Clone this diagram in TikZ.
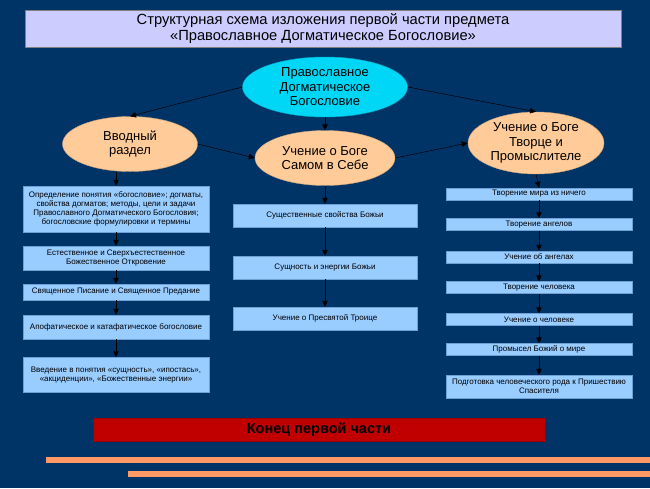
\documentclass[tikz,border=0pt]{standalone}
\usepackage{fontspec}
\setmainfont{Liberation Sans}
\usetikzlibrary{shapes.geometric,arrows.meta}
\definecolor{bg}{RGB}{0,51,102}
\definecolor{titlefill}{RGB}{204,204,255}
\definecolor{cyanfill}{RGB}{0,214,245}
\definecolor{peach}{RGB}{255,204,153}
\definecolor{boxfill}{RGB}{153,204,255}
\definecolor{boxline}{RGB}{110,160,215}
\definecolor{redfill}{RGB}{192,0,0}
\definecolor{bar}{RGB}{255,153,102}
\begin{document}
\begin{tikzpicture}[x=1pt,y=-1pt,
  box/.style={draw=boxline, fill=boxfill, line width=0.5pt, inner sep=1pt, align=center,
              font=\fontsize{8}{9}\selectfont, minimum width=186pt},
  ell/.style={ellipse, draw=#1!80!black, fill=#1, line width=0.4pt, inner sep=0pt, align=center,
              font=\fontsize{13}{14.5}\selectfont},
  arr/.style={draw=black, line width=0.5pt, -{Triangle[length=6pt,width=5.5pt]}}]
\fill[bg] (0,0) rectangle (650,488);
\useasboundingbox (0,0) rectangle (650,488);
% title
\node[draw=gray, fill=titlefill, line width=0.5pt, minimum width=596pt, minimum height=34pt,
      align=center, font=\fontsize{14.7}{16}\selectfont] (title) at (323,29)
  {Структурная схема изложения первой части предмета\\«Православное Догматическое Богословие»};
% ellipses
\node[ell=cyanfill, minimum width=165pt, minimum height=60pt] (pdb) at (325,87)
  {Православное\\Догматическое\\Богословие};
\node[ell=peach, minimum width=135pt, minimum height=55pt] (vv) at (130,144)
  {Вводный\\раздел};
\node[ell=peach, minimum width=140pt, minimum height=55pt] (sam) at (325,158)
  {Учение о Боге\\Самом в Себе};
\node[ell=peach, minimum width=136pt, minimum height=62pt] (tv) at (536,143)
  {Учение о Боге\\Творце и\\Промыслителе};
% left column
\node[box, minimum height=46pt] (L1) at (116,209)
  {Определение понятия «богословие»; догматы,\\свойства догматов; методы, цели и задачи\\Православного Догматического Богословия;\\богословские формулировки и термины};
\node[box, minimum height=24pt] (L2) at (116,258)
  {Естественное и Сверхъестественное\\Божественное Откровение};
\node[box, minimum height=16pt] (L3) at (116,292)
  {Священное Писание и Священное Предание};
\node[box, minimum height=24pt] (L4) at (116,327)
  {Апофатическое и катафатическое богословие};
\node[box, minimum height=35pt] (L5) at (116,375)
  {Введение в понятия «сущность», «ипостась»,\\«акциденции», «Божественные энергии»};
% middle column
\node[box, minimum width=184pt, minimum height=23pt] (M1) at (325,215.5) {Существенные свойства Божьи};
\node[box, minimum width=184pt, minimum height=23pt] (M2) at (325,267.5) {Сущность и энергии Божьи};
\node[box, minimum width=184pt, minimum height=23pt] (M3) at (325,318.5) {Учение о Пресвятой Троице};
% right column
\node[box, minimum height=12pt] (R1) at (539,194) {Творение мира из ничего};
\node[box, minimum height=12pt] (R2) at (539,224.5) {Творение ангелов};
\node[box, minimum height=12pt] (R3) at (539,257) {Учение об ангелах};
\node[box, minimum height=12pt] (R4) at (539,287.5) {Творение человека};
\node[box, minimum height=12pt] (R5) at (539,319.5) {Учение о человеке};
\node[box, minimum height=12pt] (R6) at (539,349.5) {Промысел Божий о мире};
\node[box, minimum height=23pt] (R7) at (539,386.5) {Подготовка человеческого рода к Пришествию\\Спасителя};
% end
\node[draw=redfill!80!black, fill=redfill, line width=0.5pt, minimum width=452pt, minimum height=23pt,
      font=\fontsize{14.5}{16}\selectfont\bfseries, text=black] (end) at (319,430) {Конец первой части};
\fill[bar] (46,457) rectangle (650,463);
\fill[bar] (128,471) rectangle (650,477);
% connectors
\draw[arr] (pdb.west) -- (vv.north);
\draw[arr] (pdb.east) -- (tv.north);
\draw[arr] (pdb.south) -- (sam.north);
\draw[arr] (vv.east) -- (sam.west);
\draw[arr] (sam.east) -- (tv.west);
\draw[arr] (L1.north |- vv.south) -- (L1.north);
\draw[arr] (L1) -- (L2);
\draw[arr] (L2) -- (L3);
\draw[arr] (L3) -- (L4);
\draw[arr] (L4) -- (L5);
\draw[arr] (sam.south) -- (M1.north);
\draw[arr] (M1) -- (M2);
\draw[arr] (M2) -- (M3);
\draw[arr] (tv.south) -- (R1.north);
\draw[arr] (R1) -- (R2);
\draw[arr] (R2) -- (R3);
\draw[arr] (R3) -- (R4);
\draw[arr] (R4) -- (R5);
\draw[arr] (R5) -- (R6);
\draw[arr] (R6) -- (R7);
\end{tikzpicture}
\end{document}
